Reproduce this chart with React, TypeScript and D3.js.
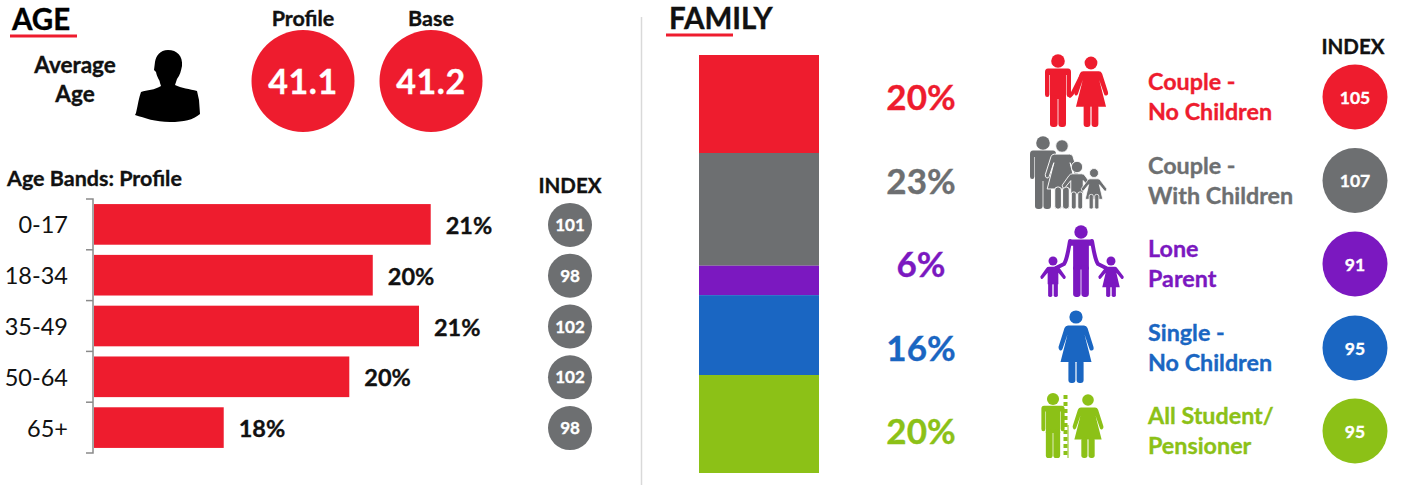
import React from "react";
import * as d3 from "d3";

const RED = "#ee1c2e", GRAY = "#6d6f71", PURPLE = "#7b18c0", BLUE = "#1a66c2", GREEN = "#8cc117";
const FONT = "Lato, 'Open Sans', sans-serif";

const ageBands = ["0-17", "18-34", "35-49", "50-64", "65+"];
const ageValues = [20.88, 20.04, 20.71, 19.7, 17.88];
const ageLabels = ["21%", "20%", "21%", "20%", "18%"];
const ageIndex = [101, 98, 102, 102, 98];
const averages = [{ name: "Profile", value: "41.1" }, { name: "Base", value: "41.2" }];

const familyKeys = ["couple", "withKids", "lone", "single", "student"];
const familyValues = [20, 23, 6, 16.3, 20];
const familyPct = ["20%", "23%", "6%", "16%", "20%"];
const familyIndex = [105, 107, 91, 95, 95];
const familyColors = [RED, GRAY, PURPLE, BLUE, GREEN];
const familyLines = [
  ["Couple -", "No Children"],
  ["Couple -", "With Children"],
  ["Lone", "Parent"],
  ["Single -", "No Children"],
  ["All Student/", "Pensioner"],
];

const xAge = d3.scaleLinear().domain([16, 21]).range([94, 439]);
const yAge = d3.scaleBand().domain(ageBands).range([199, 453]).paddingInner(0.2).paddingOuter(0.1);

const stackRow: Record<string, number> = {};
familyKeys.forEach((k, i) => (stackRow[k] = familyValues[i]));
const stacked = d3.stack<Record<string, number>>().keys(familyKeys)([stackRow]);
const yFam = d3.scaleLinear().domain([0, d3.sum(familyValues)]).range([55, 473]);
const rowCy = [97, 180.5, 264, 348, 431];

type FigProps = { x: number; y: number; foot: number; color: string; r?: number };

function Man({ x, y, foot, color, r = 6.8, arms = true }: FigProps & { arms?: boolean }) {
  const s = (foot - y) / 66;
  return (
    <g transform={`translate(${x},${y}) scale(${s})`} fill={color}>
      <circle r={r} />
      {arms ? (
        <path d="M-10 7.5H10Q13 7.5 13 11V33.5Q13 36 10.8 36T8.6 33.5V14H8V38H-8V14H-8.6V33.5Q-8.6 36 -10.8 36T-13 33.5V11Q-13 7.5 -10 7.5Z" />
      ) : (
        <path d="M-9 7.5H9Q12.5 7.5 12.5 11V14H8V38H-8V14H-12.5V11Q-12.5 7.5 -9 7.5Z" />
      )}
      <rect x={-8} y={34} width={7.6} height={32} rx={3.2} />
      <rect x={0.4} y={34} width={7.6} height={32} rx={3.2} />
    </g>
  );
}

function Woman({ x, y, foot, color, r = 6.6 }: FigProps) {
  const s = (foot - y) / 66;
  return (
    <g transform={`translate(${x},${y}) scale(${s})`} fill={color}>
      <circle r={r} />
      <path d="M-8 8.5H8Q10.5 8.5 11.5 11L17.5 30Q18.2 33 16 33.5T13.5 32L8.5 17.5L15.5 45H-15.5L-8.5 17.5L-13.5 32Q-14.5 34 -16 33.5T-17.5 30L-11.5 11Q-10.5 8.5 -8 8.5Z" />
      <rect x={-7.6} y={43} width={7} height={23} rx={3} />
      <rect x={0.6} y={43} width={7} height={23} rx={3} />
    </g>
  );
}

function Kid({ x, y, foot, color, girl, r = 4.6 }: FigProps & { girl?: boolean }) {
  const s = (foot - y) / 37;
  return (
    <g transform={`translate(${x},${y}) scale(${s})`} fill={color}>
      <circle r={r} />
      <path
        d={
          girl
            ? "M-4 6H4Q5.5 6 6.5 7.5L13 16Q13.5 18 12 18.5T10 17.5L5.5 12L9 27H-9L-5.5 12L-10 17.5Q-11 19 -12 18.5T-13 16L-6.5 7.5Q-5.5 6 -4 6Z"
            : "M-4 6H4Q6 6 7 7.5L13 16Q13.5 18 12 18.5T10 17.5L5.5 12V24H-5.5V12L-10 17.5Q-11 19 -12 18.5T-13 16L-7 7.5Q-6 6 -4 6Z"
        }
      />
      <rect x={-5} y={22} width={4.3} height={15} rx={1.8} />
      <rect x={0.7} y={22} width={4.3} height={15} rx={1.8} />
    </g>
  );
}

function Silhouette() {
  return (
    <path
      d="M168 50C160 50 156 56 155 62L154 70L156 72C157 78 160 80 160 83L161 86C155 90 147 90 141 92C139 97 138 104 136 113L135 115C145 118 155 122 170 122C184 122 193 120 200 114L199 100L197 91C190 89 181 88 175 85L177 79C180 75 181 71 182 66C183 56 177 50 168 50Z"
      fill="#000"
    />
  );
}

function CoupleIcon() {
  return (
    <g>
      <Man x={1058} y={61} foot={127} color={RED} />
      <Woman x={1091} y={63} foot={127} color={RED} />
      <path d="M1082 74L1072 94L1070 96" stroke={RED} strokeWidth={3.5} strokeLinecap="round" fill="none" />
    </g>
  );
}

function FamilyIcon() {
  return (
    <g>
      <Man x={1043} y={143} foot={209} color={GRAY} />
      <g stroke="#fff" strokeWidth={1}>
        <Woman x={1062} y={146} foot={209} color={GRAY} />
      </g>
      <g stroke="#fff" strokeWidth={0.8}>
        <Kid x={1077} y={167} foot={209} color={GRAY} r={5} />
        <Kid x={1094} y={173} foot={209} color={GRAY} girl />
      </g>
    </g>
  );
}

function LoneIcon() {
  return (
    <g>
      <Man x={1081} y={232} foot={297} color={PURPLE} arms={false} />
      <path d="M1070 241C1068 252 1067 260 1064 264L1056 268M1092 241C1094 252 1095 260 1098 264L1106 268" stroke={PURPLE} strokeWidth={4} strokeLinecap="round" fill="none" />
      <Kid x={1053} y={261} foot={297} color={PURPLE} />
      <Kid x={1111} y={261} foot={297} color={PURPLE} girl />
    </g>
  );
}

function StudentIcon() {
  return (
    <g>
      <Man x={1053} y={399} foot={458} color={GREEN} />
      <line x1={1065.5} x2={1065.5} y1={395} y2={458} stroke={GREEN} strokeWidth={4} strokeDasharray="4 3" />
      <line x1={1068} x2={1068} y1={425} y2={458} stroke={GREEN} strokeWidth={1} />
      <Woman x={1088} y={400} foot={458} color={GREEN} />
    </g>
  );
}

const heavy = (c: string) => ({ fontWeight: 700, fill: c, stroke: c, strokeWidth: 0.35 });

export default function App() {
  return (
    <svg width={1401} height={485} style={{ position: "absolute", left: 0, top: 0, display: "block", fontFamily: FONT }}>
      {/* AGE panel */}
      <text x={12} y={30} fontSize={29.5} {...heavy("#000")}>AGE</text>
      <line x1={10} x2={77} y1={36} y2={36} stroke={RED} strokeWidth={3} />
      <text x={75} y={73} textAnchor="middle" fontSize={22.5} {...heavy("#111")}>Average</text>
      <text x={75} y={102} textAnchor="middle" fontSize={22.5} {...heavy("#111")}>Age</text>
      <Silhouette />
      {averages.map((d, i) => (
        <g key={d.name}>
          <text x={303 + i * 128} y={26} textAnchor="middle" fontSize={21.5} {...heavy("#111")}>{d.name}</text>
          <ellipse cx={303 + i * 128} cy={81} rx={51.5} ry={51} fill={RED} />
          <text x={303 + i * 128} y={94} textAnchor="middle" fontSize={34} letterSpacing={0.6} {...heavy("#fff")}>{d.value}</text>
        </g>
      ))}

      <text x={7} y={186} fontSize={21.5} {...heavy("#111")}>Age Bands: Profile</text>
      <text x={570} y={193} textAnchor="middle" fontSize={20.5} {...heavy("#111")}>INDEX</text>
      <path d="M86 199H93V453H86" fill="none" stroke="#8a8a8a" strokeWidth={1.5} />
      {ageBands.map((b, i) => {
        const y0 = yAge(b)!;
        const h = yAge.bandwidth();
        const cy = y0 + h / 2;
        return (
          <g key={b}>
            {i > 0 && <line x1={86} x2={93} y1={199 + i * yAge.step()} y2={199 + i * yAge.step()} stroke="#8a8a8a" strokeWidth={1.5} />}
            <rect x={xAge(16)} y={y0} width={xAge(ageValues[i]) - xAge(16)} height={h} fill={RED} />
            <text x={68} y={cy + 9} textAnchor="end" fontSize={23.5} fill="#111">{b}</text>
            <text x={xAge(ageValues[i]) + 15} y={cy + 9.5} fontSize={23.5} {...heavy("#111")}>{ageLabels[i]}</text>
            <circle cx={570} cy={cy + 0.5} r={22} fill={GRAY} />
            <text x={570} y={cy + 6.5} textAnchor="middle" fontSize={17} {...heavy("#fff")}>{ageIndex[i]}</text>
          </g>
        );
      })}

      <line x1={641.5} x2={641.5} y1={17} y2={485} stroke="#d9d9d9" strokeWidth={1.5} />

      {/* FAMILY panel */}
      <text x={669} y={29} fontSize={29.5} {...heavy("#111")}>FAMILY</text>
      <line x1={666} x2={733} y1={35} y2={35} stroke={RED} strokeWidth={3} />
      <text x={1353} y={54} textAnchor="middle" fontSize={20.5} {...heavy("#111")}>INDEX</text>
      {stacked.map((s, i) => (
        <rect key={s.key} x={699} width={120} y={yFam(s[0][0])} height={yFam(s[0][1]) - yFam(s[0][0])} fill={familyColors[i]} />
      ))}
      {familyKeys.map((k, i) => (
        <g key={k}>
          <text x={921} y={rowCy[i] + 13} textAnchor="middle" fontSize={35} {...heavy(familyColors[i])}>{familyPct[i]}</text>
          {familyLines[i].map((t, j) => (
            <text key={j} x={1148} y={rowCy[i] - 7 + j * 30} fontSize={23.3} {...heavy(familyColors[i])}>{t}</text>
          ))}
          <circle cx={1355} cy={rowCy[i]} r={32.5} fill={familyColors[i]} />
          <text x={1355} y={rowCy[i] + 6.5} textAnchor="middle" fontSize={17.5} {...heavy("#fff")}>{familyIndex[i]}</text>
        </g>
      ))}
      <CoupleIcon />
      <FamilyIcon />
      <LoneIcon />
      <Woman x={1076} y={317} foot={383} color={BLUE} />
      <StudentIcon />
    </svg>
  );
}
